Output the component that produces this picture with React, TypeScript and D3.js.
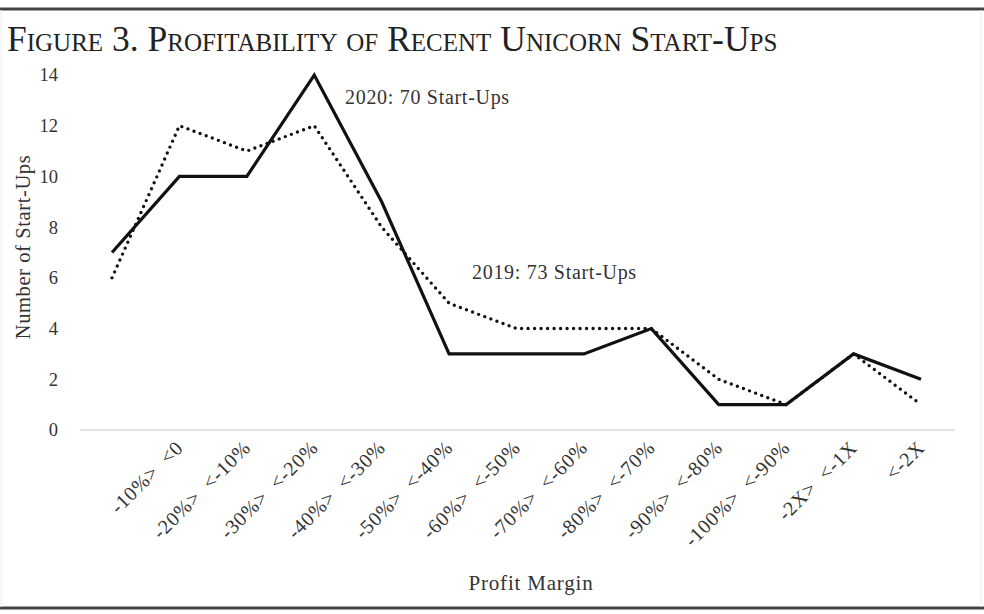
import * as d3 from 'd3';
import React from 'react';

// Profit-margin buckets (first bucket has no printed label)
const categories = [
  '',
  '-10%>  <0',
  '-20%>  <-10%',
  '-30%>  <-20%',
  '-40%>  <-30%',
  '-50%>  <-40%',
  '-60%>  <-50%',
  '-70%>  <-60%',
  '-80%>  <-70%',
  '-90%>  <-80%',
  '-100%>  <-90%',
  '-2X>  <-1X',
  '<-2X',
];
const startUps2020 = [7, 10, 10, 14, 9, 3, 3, 3, 4, 1, 1, 3, 2];
const startUps2019 = [6, 12, 11, 12, 8, 5, 4, 4, 4, 2, 1, 3, 1];
const yTicks = [0, 2, 4, 6, 8, 10, 12, 14];

const W = 984;
const H = 614;
const FONT = '"Liberation Serif", "DejaVu Serif", serif';

export default function App() {
  const x = d3
    .scalePoint<number>()
    .domain(categories.map((_, i) => i))
    .range([112, 921]);

  const y = d3.scaleLinear().domain([0, 14]).range([430, 75]);

  const line = d3
    .line<number>()
    .x((_, i) => x(i) as number)
    .y((d) => y(d));

  return (
    <svg
      width={W}
      height={H}
      style={{ position: 'absolute', left: 0, top: 0, background: '#fff' }}
      fontFamily={FONT}
    >
      {/* frame */}
      <rect x={0} y={0} width={W} height={H} fill="#fff" />
      <line x1={0} x2={W} y1={9} y2={9} stroke="#444" strokeWidth={3} />
      <line x1={0} x2={W} y1={608} y2={608} stroke="#444" strokeWidth={3} />
      <line x1={1} x2={1} y1={10} y2={607} stroke="#eee" strokeWidth={1} />
      <line x1={981} x2={981} y1={10} y2={607} stroke="#eee" strokeWidth={1} />

      {/* title */}
      <text
        x={7}
        y={51}
        fontSize={35.5}
        fill="#222"
        style={{ fontVariant: 'small-caps' }}
      >
        Figure 3. Profitability of Recent Unicorn Start-Ups
      </text>

      {/* x axis baseline */}
      <line x1={80} x2={955} y1={y(0)} y2={y(0)} stroke="#d9d9d9" strokeWidth={1.5} />

      {/* y tick labels */}
      {yTicks.map((t) => (
        <text
          key={t}
          x={58}
          y={y(t)}
          dy="0.35em"
          textAnchor="end"
          fontSize={18.5}
          fill="#333"
        >
          {t}
        </text>
      ))}

      {/* x tick labels */}
      {categories.map((c, i) => (
        <text
          key={i}
          transform={`translate(${(x(i) as number) + 5},${449}) rotate(-45)`}
          textAnchor="end"
          fontSize={20}
          letterSpacing={0.8}
          fill="#333"
          style={{ whiteSpace: 'pre' }}
        >
          {c}
        </text>
      ))}

      {/* axis titles */}
      <text
        transform={`translate(${30},${247}) rotate(-90)`}
        textAnchor="middle"
        fontSize={20.5}
        letterSpacing={0.6}
        fill="#333"
      >
        Number of Start-Ups
      </text>
      <text
        x={531}
        y={590}
        textAnchor="middle"
        fontSize={21}
        letterSpacing={0.8}
        fill="#333"
      >
        Profit Margin
      </text>

      {/* series */}
      <path
        d={line(startUps2019) ?? ''}
        fill="none"
        stroke="#111"
        strokeWidth={3.4}
        strokeDasharray="0 6.5"
        strokeLinecap="round"
        strokeLinejoin="round"
      />
      <path
        d={line(startUps2020) ?? ''}
        fill="none"
        stroke="#111"
        strokeWidth={3.2}
        strokeLinejoin="miter"
      />

      {/* annotations */}
      <text x={345} y={104} fontSize={20} letterSpacing={0.7} fill="#333">
        2020: 70 Start-Ups
      </text>
      <text x={472} y={279} fontSize={20} letterSpacing={0.7} fill="#333">
        2019: 73 Start-Ups
      </text>
    </svg>
  );
}
